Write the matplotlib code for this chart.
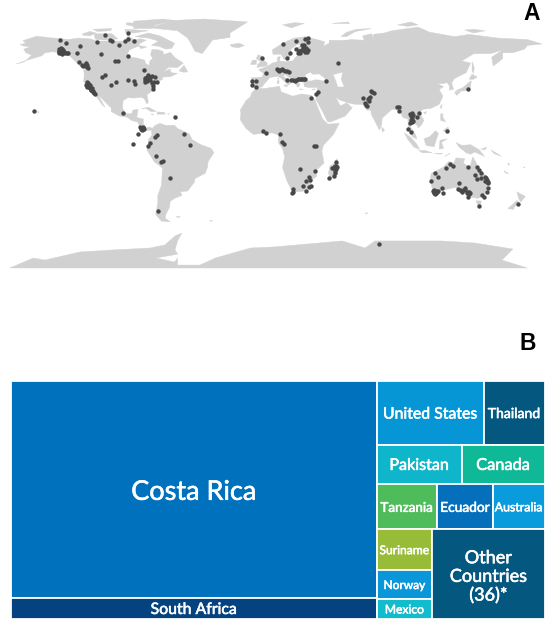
import matplotlib
matplotlib.use("Agg")
import matplotlib.pyplot as plt
import matplotlib.patheffects as pe
from matplotlib.patches import Polygon, Rectangle

W, H = 550, 624
LAND = "#d1d1d1"
DOT = "#484848"

# ---------- land outlines (lon, lat) ----------
north_america = [(-168,65.6),(-164,66.5),(-166,68.3),(-156.5,71.3),(-148,70.3),(-141,69.7),(-135,69),(-128,70),(-120,69.5),(-115,68),(-108,68),(-100,68),(-96,68),(-94,71.5),(-90,69),(-85,69.5),(-81.5,68.5),(-86,66.3),(-87,64.5),(-93,62),(-94.5,59),(-92.5,57),(-88,56.5),(-82.5,55),(-82,52.8),(-79.5,51.3),(-79,54.5),(-77,56),(-78.5,58.7),(-77.5,62.3),(-73,62),(-70,61),(-69.5,58.8),(-65,60.3),(-61.5,56.5),(-56,53),(-60,50),(-66,50.2),(-70,47),(-65,49),(-64.5,46.5),(-60,46),(-65,43.7),(-70,43.5),(-70.5,41.7),(-74,40.5),(-75.5,37.5),(-76,35),(-81,31.5),(-80,26.5),(-81,25.2),(-83,29),(-85,29.7),(-90,29.2),(-94,29.5),(-97.3,27.5),(-97.8,22.5),(-95.5,18.7),(-91.5,18.5),(-90.5,21),(-87,21.5),(-88,16),(-83.5,15),(-83.5,11),(-81.5,9),(-79,9.5),(-77.3,8.5),(-78,7.3),(-80.5,7.3),(-83,8.2),(-85.7,10),(-87.5,13),(-91.5,14),(-94.5,16.2),(-100,17),(-105.5,20),(-105.5,22.5),(-109,26),(-112.5,29.5),(-114.7,31.5),(-112,27),(-109.8,23),(-112,25),(-115,29.5),(-117.2,32.5),(-120.5,34.5),(-122.5,37.5),(-124.3,40.3),(-124,46),(-124.5,48.3),(-122.5,49),(-127,51),(-130.5,54.5),(-134,58),(-139,60),(-146,60.7),(-151,60),(-153,58),(-158,56.5),(-164,54.7),(-160,58.5),(-164,60),(-165.5,62.5),(-161,64),(-166,64.7)]
south_america = [(-77.3,8.5),(-75.5,10.5),(-72,12),(-68,10.6),(-62,10.7),(-60,8.5),(-52,5),(-50,1),(-44,-2.5),(-37,-5),(-35,-8),(-39,-14),(-39.5,-18),(-41,-22),(-48,-25.5),(-48.5,-28),(-53,-34),(-58,-34.5),(-57,-37),(-62,-39),(-65,-41),(-65.5,-45),(-68,-50),(-68.5,-52.5),(-65,-55),(-71,-54.5),(-75,-50),(-73.5,-42),(-73.5,-37),(-71,-30),(-70.3,-18.5),(-76,-14),(-81,-6),(-80,-2.5),(-80,1),(-77.5,4),(-78,7)]
africa = [(-6,35.8),(0,35.8),(10,37.2),(11,33.5),(19,30.5),(25,32),(32,31),(34.2,28),(37,21),(39.5,15),(43,11.5),(51,12),(47,4.5),(40,-3),(39,-7),(40.5,-15),(35,-20),(35.5,-24),(32.8,-26),(31,-30),(27,-34),(20,-34.8),(18,-33),(15,-27),(12,-18),(13.5,-11),(12,-5),(9,-1),(9.5,4),(5,5.5),(-4,5),(-8,4.5),(-13,8.5),(-17,14.5),(-16.5,19),(-17,21),(-13,27.5),(-10,30),(-9,33)]
eurasia = [(-9,37),(-9.5,43),(-2,43.5),(-1,46),(-4.5,48.5),(2,51),(5,53),(8.5,54),(8.5,57),(10.5,57.5),(10,54.5),(14,54),(19,54.5),(21,57),(24,59.3),(30,60),(23,60),(21,62.5),(25,65.5),(22,65.8),(17.5,62),(18.5,59.5),(16.5,56.5),(13,55.5),(11,59),(5.5,59),(5,62),(13,67),(20,70),(28,71),(41,67.5),(40,64.5),(44,66.5),(44,68.5),(54,68.5),(60,69),(68,68.5),(67,71.5),(73,73),(75,68),(74,72.5),(82,73.5),(87,75),(105,77.5),(113,74),(130,71),(140,72.5),(160,70),(170,69.5),(180,69),(190,66),(180,65),(178,62.5),(170,60),(163,60),(163,56),(156.5,51),(155.5,57),(163,62),(155,59.5),(143,59.3),(135,54.5),(141,53),(138,46.5),(130,42.5),(128,39.5),(129.3,35.3),(126.5,34.5),(126.5,37.5),(125,39.7),(121.5,39),(118,39),(122.5,37),(119.5,35),(122,30.5),(119.5,25),(114,22.3),(108,21.5),(106,19),(109,14),(107,10.5),(105,9),(104.5,10.5),(100.5,13.5),(99.5,10),(103.5,4),(104,1.3),(101,3),(98.3,8),(98,15),(94.5,16),(92,21.5),(87,21.5),(80.3,15.5),(80,11),(78.5,7.5),(73,18),(72.5,21),(70,21),(67,24.8),(61.5,25),(57,26),(51,28),(48.5,30),(51,25),(52,24),(56,26),(59.8,22.5),(55,17),(45,13),(43,13),(39,21),(35,28),(35,31),(36,36.5),(30.5,36.3),(27,37),(26.5,40),(23,40.5),(24,38),(22.5,36.5),(19.5,41),(13.5,45.5),(12.5,44),(18.3,40),(16,38),(12,42),(9,44),(3.5,43.3),(0,39.5),(-2,36.8),(-5.5,36)]
australia = [(114,-22),(113.5,-26),(115,-34.5),(118,-35),(124,-33),(131,-31.5),(135.5,-35),(138,-33),(138,-35.5),(140.5,-38),(146,-39),(150,-37.5),(153.5,-29),(153,-25.5),(149,-21),(146,-19),(145,-15),(142.5,-10.8),(141,-16),(140,-17.7),(136,-15),(137,-12),(131,-11.5),(129.5,-15),(126,-14),(122,-18)]
antarctica = [(-175,-86.4),(-159,-79.6),(-151,-81),(-127,-75.5),(-104,-74.1),(-79,-72.8),(-68.6,-70.7),(-61.7,-64.6),(-57,-62.6),(-59.7,-67.3),(-61.7,-74),(-60,-77),(-75,-79.6),(-62,-82.3),(-60,-79.6),(-60,-84.4),(-44.6,-84.4),(-34,-79.6),(-10,-72.8),(7,-72),(53,-68),(68.6,-72.8),(75.4,-68),(121,-68),(144,-69.4),(170,-73.5),(162.5,-81),(180,-86.4)]
islands = [
 [(-80,73.5),(-72,71.5),(-62,66.5),(-64,63),(-68,62.5),(-73,64.5),(-78,65),(-73,68),(-80,70),(-89,71)],
 [(-117,73),(-105,73),(-101,69.5),(-108,68.7),(-116,69),(-117,71)],
 [(-125,73),(-120,74.5),(-116,73.5),(-120,71.5),(-125,72)],
 [(-90,76.5),(-78,76.5),(-75,79),(-62,82),(-70,83),(-90,81.5)],
 [(-96,76),(-80,75),(-90,73.5),(-96,74)],
 [(-118,76),(-105,76.5),(-106,75),(-115,74.5)],
 [(-95,80.5),(-88,80),(-90,78),(-95,79)],
 [(-87,65),(-81,64),(-85,62.8)],
 [(-59,47.7),(-55.5,51.5),(-53,47),(-56,46.8)],
 [(-84.5,22),(-80,23),(-74.5,20.2),(-78,19.9),(-82,22.3)],
 [(-74,19.8),(-69,19.5),(-68.5,18.3),(-74,18.2)],
 [(-78.3,18.4),(-76.3,18.2),(-77,17.8)],
 [(-67,18.5),(-65.7,18.4),(-66,18)],
 [(-79,77),(-63,82),(-42,83),(-12,81),(-24,73.5),(-24,70.5),(-36,68.7),(-43,59.5),(-48,61),(-51,66.6),(-53,70),(-60,75)],
 [(-24,65.5),(-18,66.5),(-14,65),(-18,63.5),(-22.5,64)],
 [(49.3,-12),(50.3,-15.5),(47.5,-25),(45,-25.5),(43.5,-22),(44.5,-17),(47,-15.5)],
 [(-5.5,50),(1.5,51.2),(1.5,53),(-2,56),(-2,57.7),(-5,58.6),(-6,56),(-3,54),(-5,52)],
 [(-10,52),(-6,52.2),(-5.8,55),(-8.5,55)],
 [(12,79),(20,80.5),(27,80),(18,77)],
 [(46,80),(57,81),(58,79.8)],
 [(91,79),(100,81),(105,79),(98,78)],
 [(137,75.5),(143,76),(151,75),(143,73.5)],
 [(52,71),(56,74),(63,76),(73,76.5),(62,74.5),(56,71)],
 [(-171,52.3),(-165,54.3),(-164,54.7),(-166,53.5)],
 [(12.5,38),(15.5,38.2),(15,36.7)],[(8.3,41),(9.7,41),(9.5,39),(8.5,39)],[(8.7,42.8),(9.5,42.8),(9.3,41.5)],
 [(23.5,35.5),(26.3,35.2),(24.5,34.9)],[(32.3,35),(34.5,35.6),(33.5,34.6)],
 [(142,54),(143.5,50),(143,46),(142,48)],
 [(140,42),(142,45.5),(145.5,43.5),(143,42)],
 [(130.5,34),(136,36.5),(140,40),(141.5,41),(141,37),(140,35),(136,34)],
 [(130,33),(131.5,33.5),(134,34),(134,33.5),(131.5,31)],
 [(120,23),(121.5,25),(121,22)],[(108.7,19.3),(110.8,20),(110,18.3)],
 [(120.5,18.5),(122,18.5),(122,16),(124,13),(120.5,14)],
 [(122,7),(125.5,9.5),(126.5,7),(125,5.7)],
 [(109,1.5),(113,3),(117,7),(119,5),(117.5,1),(116,-4),(110.5,-3)],
 [(95.5,5.5),(100,2.5),(104,-2),(106,-5.8),(102,-4),(98,1)],
 [(105.5,-6.5),(110,-6.5),(114.5,-8),(108,-8)],
 [(119.5,-5.5),(120,0.5),(125,1.5),(121,-1),(122.5,-5)],
 [(131,-1),(135,-3),(141,-2.5),(147,-6),(150.5,-10.5),(144,-7.5),(141,-9),(138,-8),(133,-4)],
 [(123.5,-10.3),(127,-8.4),(125,-9.5)],[(116,-8.4),(122,-8.3),(120,-9)],
 [(148,-5.5),(152,-4.2),(151,-6)],[(155,-6),(160,-9),(162,-10.5),(157,-8.5)],
 [(164,-20.2),(167,-22.3),(165,-21.8)],[(166.5,-15),(168,-16),(167,-16.5)],[(177.3,-17.5),(178.6,-18),(177.5,-18.2)],
 [(80,9.5),(82,7.5),(80.5,6)],
 [(144.7,-40.7),(148.3,-40.8),(148,-43),(146,-43.6)],
 [(172.7,-34.5),(178.5,-37.7),(175.5,-41.5),(174,-39)],
 [(172.7,-40.5),(174.3,-41.7),(171,-45),(170.5,-46.5),(166.5,-46),(170,-43)],
 [(-155.8,20.2),(-155,19.7),(-155.7,19)],
 [(-61,-51.5),(-58,-51.3),(-59.5,-52.3)],
 [(-38,-54),(-36,-54.2),(-37,-54.8)],
 [(68.8,-48.8),(70.5,-49),(69.5,-49.7)],
]
inland_seas = [
 [(28,41.5),(28,45),(31,46.5),(33,45),(37,45.5),(41,42.5),(41,41),(35,42),(31,41)],
 [(47,45),(53,46.5),(52,42),(54,37),(50,37),(49,40.5)],
]

# ---------- study sites (lon, lat) ----------
site_lon = [-140.7,-136.8,-141.1,-139.5,-141.1,-138.4,-137.2,-135,-140,-137.9,-127,-129.2,-115.5,-109.6,-106.4,-104.8,-100.4,-96.1,-93.8,-89.9,-94,-112.5,-103,-100.6,-94.2,-127.4,-122.8,-121.9,-124.6,-121.2,-125.8,-82.8,-112.1,-110,-105.4,-102.2,-94.2,-89.7,-89.2,
 -121.9,-122.8,-121.2,-120.5,-119.6,-117.8,-116.6,-118.9,-121.2,
 -82.4,-81.2,-80.1,-77.8,-75.5,-82.4,-78.9,-77.8,-76.2,-73.9,-77.1,-76.6,
 -97.4,-62,-85.8,-84,-84.6,-83,-87.4,-75.5,-74.4,-55.4,-158.3,-2.3,0.6,-8.7,-6.5,-8.7,-6.5,-1.2,0.4,
 12.6,21,27.4,29.3,29.3,17.2,14.9,21,22.4,25.1,26.3,27.4,29.7,24,8,9.6,11.4,13.7,16.5,49.8,14.9,19.4,22.9,24.7,27.4,42.1,36.1,35.2,31.5,10,
 73.2,67.4,72,70.9,68.6,69.7,72.7,74.5,90.3,91.9,91.9,99.4,101.7,100.6,101.7,99.4,104,105.6,98.3,99.9,124.6,139,
 -90.8,-80.1,-79,-51.5,-75,-71.2,-69.8,-65,-73.4,
 34.8,33.9,11.4,13,24.2,34.3,30.4,28.1,30.9,26.3,30.4,31.6,28.1,19.4,18.7,19.4,
 48.9,47.6,49.2,46.2,48,47.6,43.9,
 126.9,129,123.9,139.2,145.4,146.8,148.1,144,145.6,150.9,152,153.2,148.1,116.8,118.9,113.6,132.8,137.2,121.6,122.1,115.4,117.3,118.9,116.6,132.6,134.9,138.3,140.6,139.5,153.2,152,149.1,150.4,147,173.5,78.4,
 -141,-140,-139.5,-138,-136,-141.5,-140,-139,
 -122,-121.5,-120.5,-120,-119,-118.5,-119.5,-118,-120,-121,-122,-117.5,
 -123.5,-122.5,-122,
 -81.5,-81,-80,-79,-81,-82,-80.5,-79.5,
 -84.8,-84,-83.5,-85,
 151.5,152,152.5,151,152.8,116,117,116,118,117.5,115.8,137,139,139.8,140,135.5,133.5,
 47.8,48.5,48,47,48.5,48,
 71.5,71,69,
 9,10.5,12.5,15,18,20.5,21.5,23.5,25.5,26.5,
 23,24,26,28,27,25.5,28.5,
 100,100.5,99.8,100.5]
site_lat = [68.7,66.4,62.3,60.7,60.7,61.9,59.6,59.6,63,60.3,64.6,59.6,67.1,72.1,68.7,68.2,65.5,68,69.1,67.8,73.4,59.4,54.2,54.2,58,53.9,52.8,50.5,51.2,49.4,51.7,48.5,43.7,45.1,38.1,40.3,41.2,40.8,38.5,
 40.3,38.1,39.2,36.5,34.7,33.5,31.9,35.8,37.4,
 41.5,43.7,44.9,44.2,43.7,40.3,41.5,39.2,39.9,40.3,37.4,35.1,
 19,16.1,9.7,9.3,7.4,7.9,4.5,2.5,4.1,4.7,20.4,56.2,46.5,40.8,40.8,38.1,36.5,6.8,5.4,
 65.7,68.2,69.1,69.8,67.1,59.6,56.2,62.3,60.1,65.3,63,60.7,61.9,59.6,48.7,47.8,48.7,47.8,47.1,52.8,41.2,41.5,41.9,42.4,41.9,41,33.3,31.9,29.4,4.9,
 33.5,29.2,30.1,28.3,25.6,23.8,34.2,32.8,23.3,22.9,20.6,18.3,17.7,15.4,13.8,12,16,19.2,7.9,6.3,7,35.1,
 -2,-3.2,-1.6,-3,-10.2,-14,-13.8,-25,-47.9,
 -3.4,-3.2,-0.9,-2,-18.8,-20.2,-24.3,-27,-26.5,-30.4,-31.1,-30.4,-34.2,-32.7,-35.6,-35,
 -14,-17.9,-17.9,-18.6,-20.2,-23.6,-25.2,
 -15.4,-17,-18.6,-17.9,-17.9,-19.7,-22,-23.1,-25.6,-24.3,-27.7,-28.8,-25.4,-22,-24.3,-27.2,-28.4,-31.7,-31.7,-35.2,-34,-35.6,-34,-36.3,-32.9,-34.5,-35.6,-35.6,-37.9,-32.2,-34.5,-36.7,-37.9,-44,-42.9,-70.1,
 61.5,62,62.5,60.5,60,59.8,60,59.3,
 39,38.5,37.5,36,35,34.5,35.8,34,38,36.5,37,32.8,
 52,51,51.5,
 42.5,41.5,43,43.5,40.8,42.8,42,42,
 9,8.2,8.9,8.5,
 -25.5,-26.5,-27,-27,-27.8,-34.5,-34.8,-35.5,-35,-34.2,-33.5,-33.5,-34.6,-36,-34.5,-33.2,-33.5,
 -18.5,-17,-17,-18.2,-19,-21.5,
 29,27,24.7,
 48,48.3,48.2,47.5,41.5,41,41.7,42.5,42,42,
 61,61.5,62,63,65,62,60.5,
 17,19,14,12.7]

# ---------- treemap values (share of studies, %) ----------
left_names = ["Costa Rica", "South Africa"]
left_vals = [62.5, 5.95]
row1_names = ["United States", "Thailand"]
row1_vals = [5.34, 3.02]
row2_names = ["Pakistan", "Canada"]
row2_vals = [2.66, 2.58]
row3_names = ["Tanzania", "Ecuador", "Australia"]
row3_vals = [2.16, 1.99, 1.84]
stack_names = ["Suriname", "Norway", "Mexico"]
stack_vals = [1.77, 1.28, 0.86]
other_name = "Other\nCountries\n(36)*"
other_val = 7.92

colors = {"Costa Rica":"#0071bd","South Africa":"#04437f","United States":"#0696d6","Thailand":"#04577f",
          "Pakistan":"#0fb5ca","Canada":"#0fb998","Tanzania":"#4fbc5b","Ecuador":"#0470bb","Australia":"#0a9bdd",
          "Suriname":"#97bc38","Norway":"#0a97d9","Mexico":"#12bccc",other_name:"#04577f"}
sizes = {"Costa Rica":19.5,"South Africa":11.4,"United States":11.4,"Thailand":10.1,"Pakistan":11.6,"Canada":11.8,
         "Tanzania":9.7,"Ecuador":9.9,"Australia":8.9,"Suriname":8.7,"Norway":8.6,"Mexico":8.7,other_name:13.0}

fig = plt.figure(figsize=(W/100, H/100), dpi=100, facecolor="white")

# ---------- panel A: equirectangular map ----------
PX_LON, PX_LAT, X0, Y0 = 1.458, 1.47, 265.0, 141.0
top, bot = 0, 290
axm = fig.add_axes([0, 1-bot/H, 1, (bot-top)/H])
axm.set_xlim((0-X0)/PX_LON, (W-X0)/PX_LON)
axm.set_ylim((Y0-bot)/PX_LAT, (Y0-top)/PX_LAT)
axm.axis("off")
for poly in [north_america, south_america, africa, eurasia, australia, antarctica] + islands:
    axm.add_patch(Polygon(poly, closed=True, fc=LAND, ec=LAND, lw=0.3, zorder=1))
for poly in inland_seas:
    axm.add_patch(Polygon(poly, closed=True, fc="white", ec="white", lw=0.2, zorder=2))
axm.scatter(site_lon, site_lat, s=10, c=DOT, linewidths=0, zorder=3)

# ---------- panel B: treemap ----------
axt = fig.add_axes([11/W, 1-618.8/H, 533.5/W, 237.3/H])
axt.set_xlim(0, 1); axt.set_ylim(1, 0); axt.axis("off")

def cell(name, x, y, w, h):
    axt.add_patch(Rectangle((x, y), w, h, fc=colors[name], ec="white", lw=1.3))
    t = axt.text(x+w/2, y+h/2, name, color="white", ha="center", va="center_baseline", family="Lato",
                 fontsize=sizes[name], linespacing=1.2)
    t.set_path_effects([pe.withStroke(linewidth=0.4, foreground="white")])

total = sum(left_vals)+sum(row1_vals)+sum(row2_vals)+sum(row3_vals)+sum(stack_vals)+other_val
lw = sum(left_vals)/total
y = 0
for n, v in zip(left_names, left_vals):
    h = v/sum(left_vals); cell(n, 0, y, lw, h); y += h
rw = 1-lw; rt = total-sum(left_vals); y = 0
for names, vals in [(row1_names,row1_vals),(row2_names,row2_vals),(row3_names,row3_vals)]:
    rh = sum(vals)/rt; x = lw
    for n, v in zip(names, vals):
        w = rw*v/sum(vals); cell(n, x, y, w, rh); x += w
    y += rh
row4 = sum(stack_vals)+other_val
rh = row4/rt; cw = rw*sum(stack_vals)/row4; yy = y
for n, v in zip(stack_names, stack_vals):
    h = rh*v/sum(stack_vals); cell(n, lw, yy, cw, h); yy += h
cell(other_name, lw+cw, y, rw-cw, rh)

fig.text(531.7/W, 1-14/H, "A", family="Liberation Sans", weight="bold", fontsize=16.5, ha="center", va="center")
fig.text(528/W, 1-344/H, "B", family="Liberation Sans", weight="bold", fontsize=16.5, ha="center", va="center")

fig.savefig("out.png", dpi=100, facecolor="white")
